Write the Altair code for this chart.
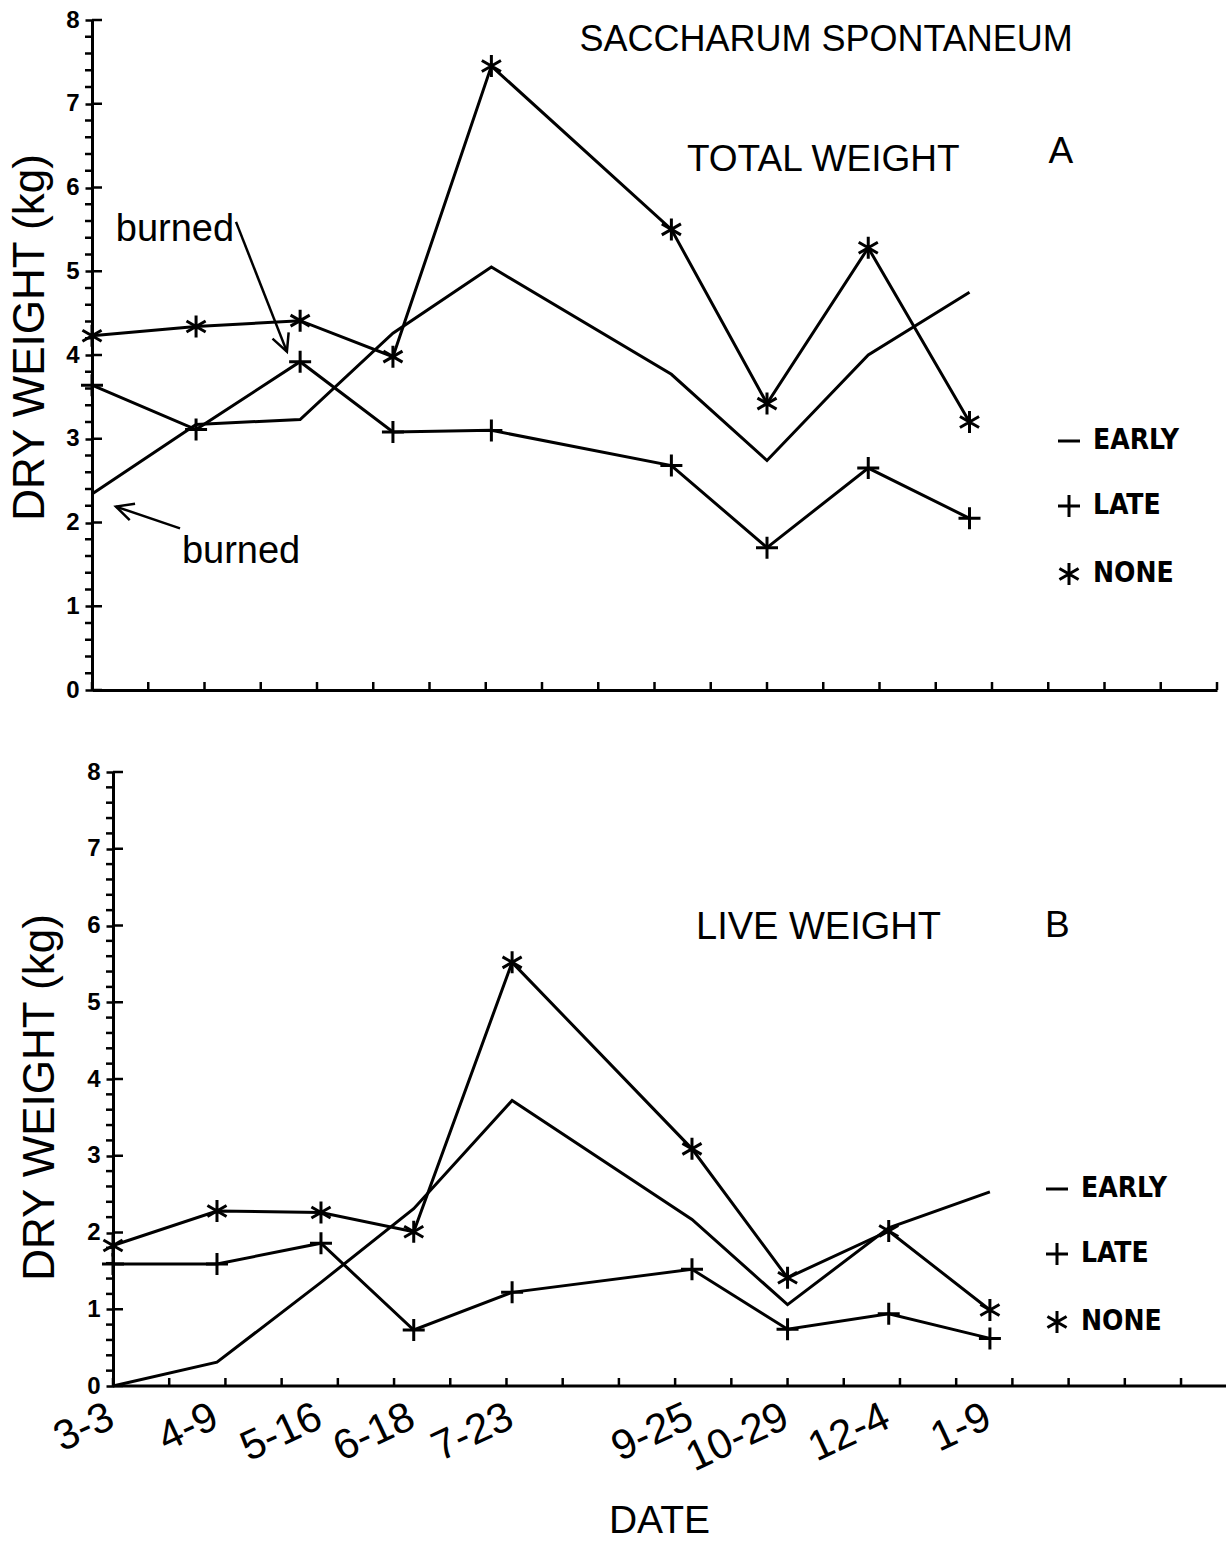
import altair as alt
import pandas as pd

# ---------------- data ----------------
dates = ["3-3", "4-9", "5-16", "6-18", "7-23", "9-25", "10-29", "12-4", "1-9"]
days = [0, 37, 74, 107, 142, 206, 240, 276, 312]          # days after 3-3
series_names = ["EARLY", "LATE", "NONE"]

early_total = [2.34, 3.17, 3.23, 4.26, 5.05, 3.77, 2.74, 4.00, 4.75]
late_total = [3.64, 3.11, 3.92, 3.08, 3.10, 2.68, 1.70, 2.65, 2.05]
none_total = [4.23, 4.34, 4.41, 3.98, 7.45, 5.50, 3.42, 5.28, 3.20]

early_live = [0.00, 0.31, 1.35, 2.31, 3.72, 2.17, 1.06, 2.06, 2.53]
late_live = [1.59, 1.59, 1.86, 0.73, 1.22, 1.52, 0.74, 0.94, 0.62]
none_live = [1.83, 2.28, 2.26, 2.01, 5.52, 3.09, 1.41, 2.02, 0.99]

# axis tick values
x_ticks_top = [0, 20, 40, 60, 80, 100, 120, 140, 160, 180, 200, 220, 240, 260,
               280, 300, 320, 340, 360, 380, 400]
x_ticks_bottom = x_ticks_top[:-1]
y_major = [0, 1, 2, 3, 4, 5, 6, 7, 8]
y_minor = [round(i * 0.2, 1) for i in range(41) if i % 5 != 0]

# annotations (data coordinates)
top_text = ["SACCHARUM SPONTANEUM", "TOTAL WEIGHT", "A", "burned", "burned"]
top_text_day = [261, 260, 344.5, 29.5, 53]
top_text_val = [7.76, 6.33, 6.42, 5.49, 1.65]
top_text_size = [36, 37, 37, 38, 38]

bot_text = ["LIVE WEIGHT", "B"]
bot_text_day = [251, 336]
bot_text_val = [5.97, 6.0]
bot_text_size = [38, 37]

arrow_day = [51.2, 31.3]
arrow_val = [5.59, 1.93]
arrow_day2 = [69.3, 8.5]
arrow_val2 = [4.04, 2.19]
arrow_angle = [338.6, 108]

BASE_FONT = "Liberation Sans"
NARROW_FONT = "Liberation Sans Narrow, DejaVu Sans Condensed, Liberation Sans"

SHAPES = [
    "M-1,0L1,0",                                   # EARLY dash
    "M-1,0L1,0M0,-1L0,1",                          # LATE plus
    "M0,-1L0,1M-0.87,-0.5L0.87,0.5M-0.87,0.5L0.87,-0.5",  # NONE asterisk
]
ARROW = "M-0.5,-1L0,0L0.5,-1"


def long_df(e, l, n):
    rows = []
    for name, vals in zip(series_names, [e, l, n]):
        for d, dt, v in zip(days, dates, vals):
            rows.append({"day": d, "date": dt, "value": v, "series": name})
    return pd.DataFrame(rows)


def panel(df, width, height, xdom, xaxis, yaxis, ticks, texts, legend_xy,
          arrows=None, baseline_end=None):
    xs = alt.Scale(domain=xdom, nice=False, zero=False)
    ys = alt.Scale(domain=[0, 8], nice=False)

    line = alt.Chart(df).mark_line(color="black", strokeWidth=3).encode(
        x=alt.X("day:Q", scale=xs, axis=xaxis),
        y=alt.Y("value:Q", scale=ys, axis=yaxis),
        detail="series:N",
    )
    pts = alt.Chart(df[df.series != "EARLY"]).mark_point(
        filled=False, color="black", strokeWidth=3, size=484, opacity=1
    ).encode(
        x="day:Q",
        y="value:Q",
        shape=alt.Shape(
            "series:N",
            scale=alt.Scale(domain=series_names, range=SHAPES),
            legend=alt.Legend(
                title=None, orient="none", legendX=legend_xy[0], legendY=legend_xy[1],
                direction="vertical", symbolSize=484, symbolStrokeWidth=3,
                symbolStrokeColor="black", symbolFillColor="transparent",
                labelFont=NARROW_FONT, labelFontSize=28, labelFontWeight="bold",
                labelColor="black", rowPadding=34, labelOffset=10, padding=0,
            ),
        ),
    )
    xt = alt.Chart(pd.DataFrame({"day": ticks})).mark_rule(
        color="black", strokeWidth=2.5, y2Offset=-8
    ).encode(x="day:Q", y=alt.datum(0), y2=alt.datum(0))
    yt = alt.Chart(pd.DataFrame({"value": y_major})).mark_rule(
        color="black", strokeWidth=2.5, x2Offset=10
    ).encode(y="value:Q", x=alt.datum(0), x2=alt.datum(0))
    ym = alt.Chart(pd.DataFrame({"value": y_minor})).mark_rule(
        color="black", strokeWidth=2.5, x2Offset=-7
    ).encode(y="value:Q", x=alt.datum(0), x2=alt.datum(0))
    tx = alt.Chart(pd.DataFrame(texts)).mark_text(
        font=BASE_FONT, color="black", align="center", baseline="middle"
    ).encode(
        x="day:Q", y="value:Q", text="label:N",
        size=alt.Size("fs:Q", scale=None, legend=None),
    )
    layers = [line, pts, xt, yt, ym, tx]
    if baseline_end is not None:
        bl = alt.Chart(pd.DataFrame({"day": [0], "day2": [baseline_end]})).mark_rule(
            color="black", strokeWidth=3
        ).encode(x="day:Q", x2="day2:Q", y=alt.datum(0))
        layers.append(bl)
    if arrows is not None:
        adf = pd.DataFrame(arrows)
        shaft = alt.Chart(adf).mark_rule(color="black", strokeWidth=2.5).encode(
            x="day:Q", y="value:Q", x2="day2:Q", y2="value2:Q"
        )
        head = alt.Chart(adf).mark_point(
            shape=ARROW, filled=False, color="black", strokeWidth=2.5, size=1200, opacity=1
        ).encode(x="day2:Q", y="value2:Q", angle=alt.Angle("ang:Q", scale=None))
        layers += [shaft, head]
    return alt.layer(*layers).properties(width=width, height=height)


yaxis_common = dict(
    values=y_major, format="d", labelOverlap=False,
    tickSize=7, tickWidth=2.5, tickColor="black",
    domainWidth=3, domainColor="black",
    labelFont=BASE_FONT, labelFontSize=24, labelFontWeight="bold",
    labelColor="black", labelPadding=6,
    title="DRY WEIGHT (kg)", titleFont=BASE_FONT, titleFontSize=44,
    titleFontWeight="normal", titleColor="black", grid=False,
)

top_x_axis = alt.Axis(title=None, labels=False, ticks=False, domainWidth=3,
                      domainColor="black", grid=False)
top_y_axis = alt.Axis(titlePadding=13, titleY=317, **yaxis_common)

label_expr = "[" + ",".join(f"'{d}'" for d in dates) + "][indexof([" + \
    ",".join(str(d) for d in days) + "], datum.value)]"
bot_x_axis = alt.Axis(
    values=days, labelExpr=label_expr, labelAngle=335, labelAlign="right",
    labelBaseline="middle", labelFont=BASE_FONT, labelFontSize=42,
    labelColor="black", labelPadding=28, labelOffset=-2, labelOverlap=False,
    labelFlush=False, ticks=False, tickSize=0, domain=False, grid=False,
    title="DATE", titleFont=BASE_FONT, titleFontSize=39, titleFontWeight="normal",
    titleColor="black", titleY=115, titleBaseline="top",
)
bot_y_axis = alt.Axis(titlePadding=24, offset=-21, titleY=325, **yaxis_common)

top = panel(
    long_df(early_total, late_total, none_total), 1125, 670, [0, 400],
    top_x_axis, top_y_axis, x_ticks_top,
    {"label": top_text, "day": top_text_day, "value": top_text_val, "fs": top_text_size},
    (963, 407),
    arrows={"day": arrow_day, "value": arrow_val, "day2": arrow_day2,
            "value2": arrow_val2, "ang": arrow_angle},
)
bottom = panel(
    long_df(early_live, late_live, none_live), 1134, 614, [-7.47, 396],
    bot_x_axis, bot_y_axis, x_ticks_bottom,
    {"label": bot_text, "day": bot_text_day, "value": bot_text_val, "fs": bot_text_size},
    (951, 403), baseline_end=396,
)

chart = alt.vconcat(top, bottom, spacing=82, bounds="flush").resolve_scale(
    x="independent", y="independent", shape="independent"
).resolve_legend(shape="independent").properties(
    padding={"left": 8, "top": 8, "right": 0, "bottom": 0},
    background="white",
).configure_view(strokeWidth=0)

chart.save("out.html", embed_options={"renderer": "svg", "actions": False})
